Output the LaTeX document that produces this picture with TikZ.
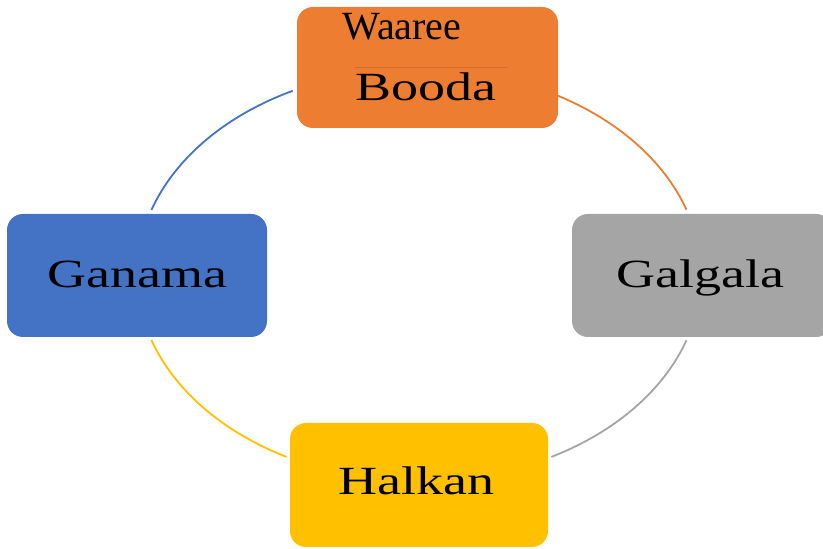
\documentclass[tikz,border=0pt]{standalone}
\usepackage{fontspec}
\setmainfont{Liberation Serif}
\usepackage{graphicx}
\definecolor{cycOrange}{HTML}{ED7D31}
\definecolor{cycBlue}{HTML}{4472C4}
\definecolor{cycGray}{HTML}{A5A5A5}
\definecolor{cycYellow}{HTML}{FFC000}
\newcommand{\widetext}[1]{\scalebox{1.35}[1]{#1}}
\tikzset{
  stage/.style={rounded corners=16pt, minimum width=260pt, minimum height=122pt, inner sep=0pt},
  lbl/.style={anchor=base, inner sep=0pt, font=\fontsize{40pt}{44pt}\selectfont},
  ring/.style={line width=1.8pt},
}
\begin{document}
\begin{tikzpicture}[x=1pt, y=1pt]
    \useasboundingbox (0,0) rectangle (823,549);
    \clip (0,0) rectangle (823,549);
    \coordinate (c) at (419,274);
    \draw[ring, cycBlue] (c) ++(161.6:282 and 206) arc[start angle=161.6, end angle=116.6, x radius=282, y radius=206];
    \draw[ring, cycOrange] (c) ++(60.5:282 and 206) arc[start angle=60.5, end angle=18.5, x radius=282, y radius=206];
    \draw[ring, cycGray] (c) ++(-18.5:282 and 206) arc[start angle=-18.5, end angle=-62, x radius=282, y radius=206];
    \draw[ring, cycYellow] (c) ++(-118:282 and 206) arc[start angle=-118, end angle=-161.6, x radius=282, y radius=206];
    \node[stage, fill=cycOrange, minimum width=261pt, minimum height=121pt] (booda) at (427.5,481.5) {};
    \node[stage, fill=cycBlue, minimum height=123pt] (ganama) at (137,273.5) {};
    \node[stage, fill=cycGray, minimum height=123pt] (galgala) at (702,273.5) {};
    \node[stage, fill=cycYellow, minimum width=258pt, minimum height=124pt] (halkan) at (419,64) {};
    \draw[cycOrange!88!black, line width=0.8pt] (355,482) -- (508,482);
    \node[lbl] (waaree) at (402,509) {Waaree};
    \node[lbl] (booda-t) at (426,448) {\widetext{Booda}};
    \node[lbl] (ganama-t) at (137.5,261) {\widetext{Ganama}};
    \node[lbl] (galgala-t) at (700,261) {\widetext{Galgala}};
    \node[lbl] (halkan-t) at (416.5,54) {\widetext{Halkan}};
\end{tikzpicture}
\end{document}
